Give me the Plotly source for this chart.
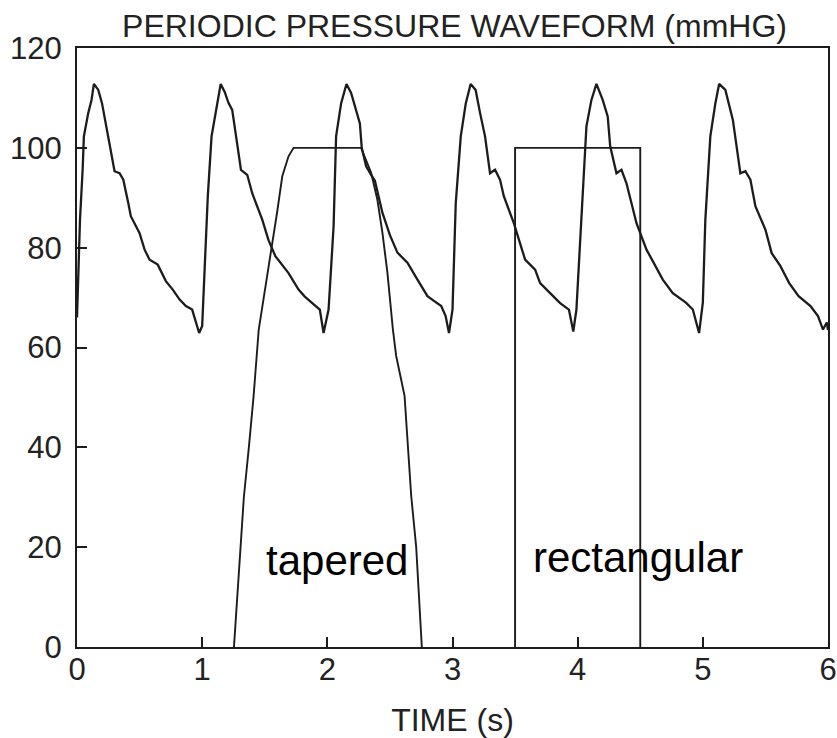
import plotly.graph_objects as go

# Periodic pressure waveform (mmHg)
wave_t = [0.000, 0.010, 0.024, 0.045, 0.055, 0.090, 0.116, 0.135, 0.170, 0.200, 0.235, 0.275, 0.300, 0.340,
          0.370, 0.410, 0.430, 0.500, 0.540, 0.580, 0.645, 0.710, 0.765, 0.820, 0.870, 0.920, 0.950, 0.976,
          1.000, 1.020, 1.045, 1.075, 1.110, 1.130, 1.148, 1.180, 1.210, 1.240, 1.280, 1.310, 1.360, 1.400,
          1.480, 1.530, 1.585, 1.640, 1.690, 1.770, 1.820, 1.875, 1.940, 1.970,
          2.010, 2.050, 2.070, 2.110, 2.153, 2.190, 2.230, 2.260, 2.275, 2.310, 2.350, 2.380, 2.440, 2.500,
          2.560, 2.640, 2.720, 2.800, 2.860, 2.910, 2.945, 2.972,
          3.000, 3.026, 3.066, 3.106, 3.145, 3.185, 3.220, 3.260, 3.300, 3.340, 3.380, 3.410, 3.490, 3.580,
          3.660, 3.700, 3.780, 3.860, 3.930, 3.965,
          3.990, 4.030, 4.070, 4.110, 4.150, 4.200, 4.240, 4.260, 4.310, 4.350, 4.390, 4.470, 4.550, 4.600,
          4.680, 4.760, 4.865, 4.920, 4.945, 4.970,
          5.000, 5.020, 5.060, 5.100, 5.130, 5.180, 5.240, 5.275, 5.300, 5.340, 5.380, 5.420, 5.500, 5.550,
          5.620, 5.690, 5.765, 5.860, 5.920, 5.960, 5.990, 6.000]
wave_p = [66.0, 74.0, 85.6, 95.6, 102.3, 107.0, 109.6, 112.8, 111.6, 108.9, 104.3, 98.3, 95.3, 94.9,
          93.6, 88.9, 86.3, 82.9, 79.6, 77.6, 76.6, 73.3, 71.6, 69.6, 68.3, 67.6, 64.9, 62.9,
          64.3, 75.6, 90.3, 102.3, 107.6, 110.5, 112.8, 111.2, 109.0, 107.6, 101.0, 95.6, 94.6, 90.9,
          85.6, 81.5, 78.3, 76.5, 74.9, 71.6, 70.2, 69.0, 67.6, 62.9,
          67.6, 84.3, 102.3, 108.9, 112.8, 111.0, 107.6, 104.9, 100.0, 96.3, 94.6, 93.4, 87.0, 82.5,
          79.0, 77.0, 73.6, 70.3, 69.2, 68.3, 66.3, 62.9,
          67.6, 88.9, 102.3, 108.9, 112.8, 111.6, 107.0, 102.3, 94.9, 95.6, 93.6, 90.3, 84.9, 77.6,
          75.6, 72.9, 70.9, 68.9, 67.6, 63.2,
          67.6, 85.6, 104.3, 109.6, 112.8, 109.6, 106.3, 100.3, 94.9, 95.6, 92.9, 84.9, 79.6, 77.3,
          73.6, 70.9, 69.0, 67.6, 65.0, 62.9,
          69.0, 85.6, 102.3, 108.9, 112.8, 111.6, 105.6, 98.9, 94.9, 95.3, 93.6, 88.3, 83.6, 78.9,
          76.3, 72.9, 70.3, 68.3, 66.3, 63.6, 65.0, 63.5]

# Tapered window
taper_t = [1.254, 1.307, 1.333, 1.373, 1.410, 1.452, 1.500, 1.560, 1.600, 1.640, 1.690, 1.730,
           2.270, 2.350, 2.400, 2.440, 2.480, 2.524, 2.550, 2.617, 2.643, 2.670, 2.710, 2.755]
taper_p = [0, 20, 30, 40, 50, 63.6, 71, 80.3, 87.3, 94.3, 98.3, 100,
           100, 95, 89.6, 83, 75, 63.6, 58.3, 50.3, 40, 30.3, 20, 0]

# Rectangular window
rect_t = [3.5, 3.5, 4.5, 4.5]
rect_p = [0, 100, 100, 0]

x_ticks = [0, 1, 2, 3, 4, 5, 6]
y_ticks = [0, 20, 40, 60, 80, 100, 120]

title_text = "PERIODIC PRESSURE WAVEFORM (mmHG)"
x_title = "TIME (s)"
labels = [("tapered", 2.08, 17.4), ("rectangular", 4.48, 18.0)]

FONT = "Liberation Sans, Arial, sans-serif"
INK = "#1c1c1c"

fig = go.Figure()
fig.add_trace(go.Scatter(x=wave_t, y=wave_p, mode="lines",
                         line=dict(color=INK, width=2.3), showlegend=False))
fig.add_trace(go.Scatter(x=taper_t, y=taper_p, mode="lines",
                         line=dict(color=INK, width=1.9), showlegend=False))
fig.add_trace(go.Scatter(x=rect_t, y=rect_p, mode="lines",
                         line=dict(color=INK, width=1.9), showlegend=False))

for txt, xv, yv in labels:
    fig.add_annotation(x=xv, y=yv, text=txt, showarrow=False, xanchor="center", yanchor="middle",
                       font=dict(family=FONT, size=42, color="black"))

axis_common = dict(showline=True, linecolor=INK, linewidth=2, mirror=True,
                   ticks="inside", ticklen=10, tickwidth=1.5, tickcolor=INK,
                   showgrid=False, zeroline=False, ticklabeloverflow="allow", automargin=False,
                   tickfont=dict(family=FONT, size=31, color="#222222"))

fig.update_xaxes(range=[0, 6], tickvals=x_ticks, ticktext=[str(v) for v in x_ticks],
                 title=dict(text=x_title, font=dict(family=FONT, size=32, color="#222222"), standoff=22),
                 ticklabelstandoff=-6, **axis_common)
fig.update_yaxes(range=[0, 120], tickvals=y_ticks, ticktext=[str(v) for v in y_ticks],
                 ticklabelstandoff=7, **axis_common)

fig.update_layout(
    width=837, height=738,
    margin=dict(l=77, r=9, t=48, b=91),
    paper_bgcolor="white", plot_bgcolor="white",
    title=dict(text=title_text, x=454.5 / 837, xanchor="center", y=1 - 26 / 738, yanchor="middle",
               font=dict(family=FONT, size=32, color="#222222")),
)

fig.write_html("out.html")
